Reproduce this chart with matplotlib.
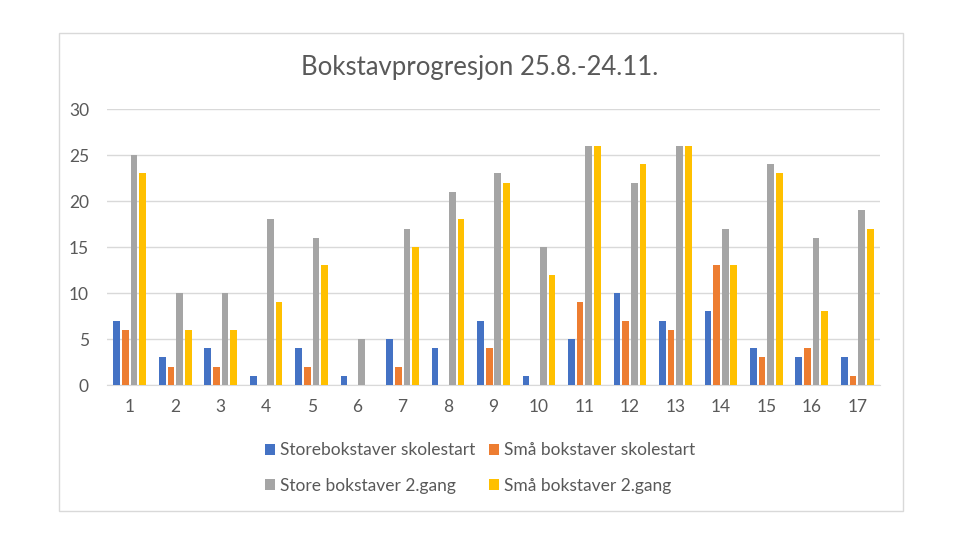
import matplotlib.pyplot as plt
import matplotlib.patches as mpatches
import numpy as np

plt.rcParams['font.family'] = ['Lato', 'DejaVu Sans']

categories = [str(i) for i in range(1, 18)]
store_start = [7, 3, 4, 1, 4, 1, 5, 4, 7, 1, 5, 10, 7, 8, 4, 3, 3]
sma_start = [6, 2, 2, 0, 2, 0, 2, 0, 4, 0, 9, 7, 6, 13, 3, 4, 1]
store_2 = [25, 10, 10, 18, 16, 5, 17, 21, 23, 15, 26, 22, 26, 17, 24, 16, 19]
sma_2 = [23, 6, 6, 9, 13, 0, 15, 18, 22, 12, 26, 24, 26, 13, 23, 8, 17]

series = [
    ('Storebokstaver skolestart', store_start, '#4472C4'),
    ('Små bokstaver skolestart', sma_start, '#ED7D31'),
    ('Store bokstaver 2.gang', store_2, '#A5A5A5'),
    ('Små bokstaver 2.gang', sma_2, '#FFC000'),
]

txt = '#595959'
fig = plt.figure(figsize=(9.6, 5.48), dpi=100)
fig.patches.append(mpatches.Rectangle((59/960, 1-511/548), 844/960, 478/548,
                                      transform=fig.transFigure, fill=False,
                                      edgecolor='#D9D9D9', linewidth=1))
ax = fig.add_axes([107/960, 1-385/548, 773/960, 276/548])

x = np.arange(len(categories))
step = 0.19
w = 0.148
bars = []
for i, (name, vals, col) in enumerate(series):
    bars.append(ax.bar(x + (i - 1.5)*step, vals, w, color=col, label=name, zorder=3))

ax.set_xlim(-0.5, len(categories)-0.5)
ax.set_ylim(0, 30)
ax.set_yticks(range(0, 31, 5))
ax.set_xticks(x)
ax.set_xticklabels(categories)
ax.grid(axis='y', color='#D9D9D9', linewidth=1, zorder=0)
for s in ['top', 'right', 'left']:
    ax.spines[s].set_visible(False)
ax.spines['bottom'].set_color('#D9D9D9')
ax.tick_params(length=0, labelsize=12.5, colors=txt)
ax.tick_params(axis='x', pad=10)
ax.tick_params(axis='y', pad=13)

fig.text(0.5, 1-67/548, 'Bokstavprogresjon 25.8.-24.11.', ha='center', va='center',
         fontsize=18.5, color=txt)

# rekkefølge rad for rad
order = [0, 2, 1, 3]
fig.legend([bars[i] for i in order], [series[i][0] for i in order],
           loc='center', bbox_to_anchor=(0.5, 1-468/548), ncol=2, frameon=False,
           fontsize=12.5, labelcolor=txt, handlelength=0.55, handleheight=0.55,
           handletextpad=0.3, columnspacing=0.8, labelspacing=1.1)

fig.savefig('out.png', dpi=100)
